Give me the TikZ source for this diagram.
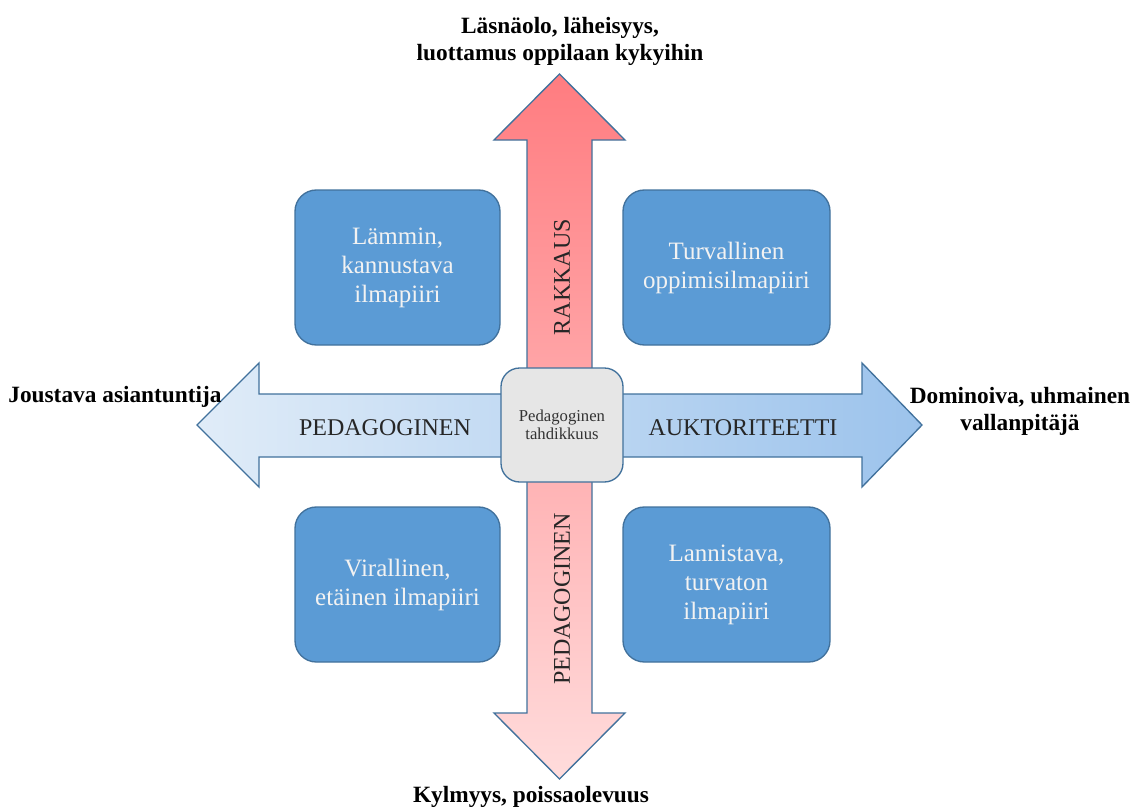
\documentclass[tikz,border=0pt]{standalone}
\usepackage{fontspec}
\setmainfont{Liberation Serif}[BoldFont={Liberation Serif Bold}]
\definecolor{boxblue}{HTML}{5B9BD5}
\definecolor{edgeblue}{HTML}{41719C}
\definecolor{boxtext}{HTML}{F2F2F2}
\definecolor{redtop}{HTML}{FF7C80}
\definecolor{redbottom}{HTML}{FFDCDC}
\definecolor{blueleft}{HTML}{E0ECF8}
\definecolor{blueright}{HTML}{9CC3EC}
\definecolor{coregray}{HTML}{E6E6E6}
\tikzset{
  arrowshape/.style={draw=edgeblue, line width=1pt, line join=miter},
  climatebox/.style={draw=edgeblue, line width=1pt, fill=boxblue, rounded corners=16,
    text=boxtext, align=center, font=\fontsize{18.75}{21.75}\selectfont},
  corebox/.style={draw=edgeblue, line width=1pt, fill=coregray, rounded corners=14,
    text=black!80, align=center, font=\fontsize{12.5}{13.9}\selectfont},
  axislabel/.style={text=black!85, font=\fontsize{18}{20}\selectfont},
  poletext/.style={align=center, font=\fontsize{17.5}{20.25}\selectfont\bfseries}
}
\begin{document}
\begin{tikzpicture}[x=0.75pt,y=-0.75pt]
\useasboundingbox (0,0) rectangle (1140,810);

% horizontal double arrow
\draw[arrowshape, left color=blueleft, right color=blueright]
  (197,425) -- (259,363) -- (259,394) -- (862,394) -- (862,363) -- (922,425)
  -- (862,487) -- (862,457) -- (259,457) -- (259,487) -- cycle;

% vertical double arrow
\draw[arrowshape, top color=redtop, bottom color=redbottom]
  (559.5,74) -- (625,140) -- (592,140) -- (592,713) -- (625,713) -- (559.5,779)
  -- (494,713) -- (527,713) -- (527,140) -- (494,140) -- cycle;

% axis texts
\node[axislabel, rotate=90] (rakkaus) at (562,277) {RAKKAUS};
\node[axislabel, rotate=90] (pedv) at (562,599) {PEDAGOGINEN};
\node[axislabel] (pedh) at (385,428) {PEDAGOGINEN};
\node[axislabel] (auk) at (743,428) {AUKTORITEETTI};

% centre
\node[corebox, minimum width=122*0.75pt, minimum height=114*0.75pt] (core) at (562,425)
  {Pedagoginen\\tahdikkuus};

% four climates
\node[climatebox, minimum width=205*0.75pt, minimum height=155*0.75pt] (tl) at (397.5,267.5)
  {Lämmin,\\kannustava\\ilmapiiri};
\node[climatebox, minimum width=207*0.75pt, minimum height=155*0.75pt] (tr) at (726.5,267.5)
  {Turvallinen\\oppimisilmapiiri};
\node[climatebox, minimum width=205*0.75pt, minimum height=155*0.75pt] (bl) at (397.5,584.5)
  {Virallinen,\\etäinen ilmapiiri};
\node[climatebox, minimum width=207*0.75pt, minimum height=155*0.75pt] (br) at (726.5,584.5)
  {Lannistava,\\turvaton\\ilmapiiri};

% poles
\node[poletext] (north) at (560,41) {Läsnäolo, läheisyys,\\luottamus oppilaan kykyihin};
\node[poletext] (south) at (531,797) {Kylmyys, poissaolevuus};
\node[poletext] (west) at (115,397) {Joustava asiantuntija};
\node[poletext] (east) at (1020,411) {Dominoiva, uhmainen\\vallanpitäjä};
\end{tikzpicture}
\end{document}
